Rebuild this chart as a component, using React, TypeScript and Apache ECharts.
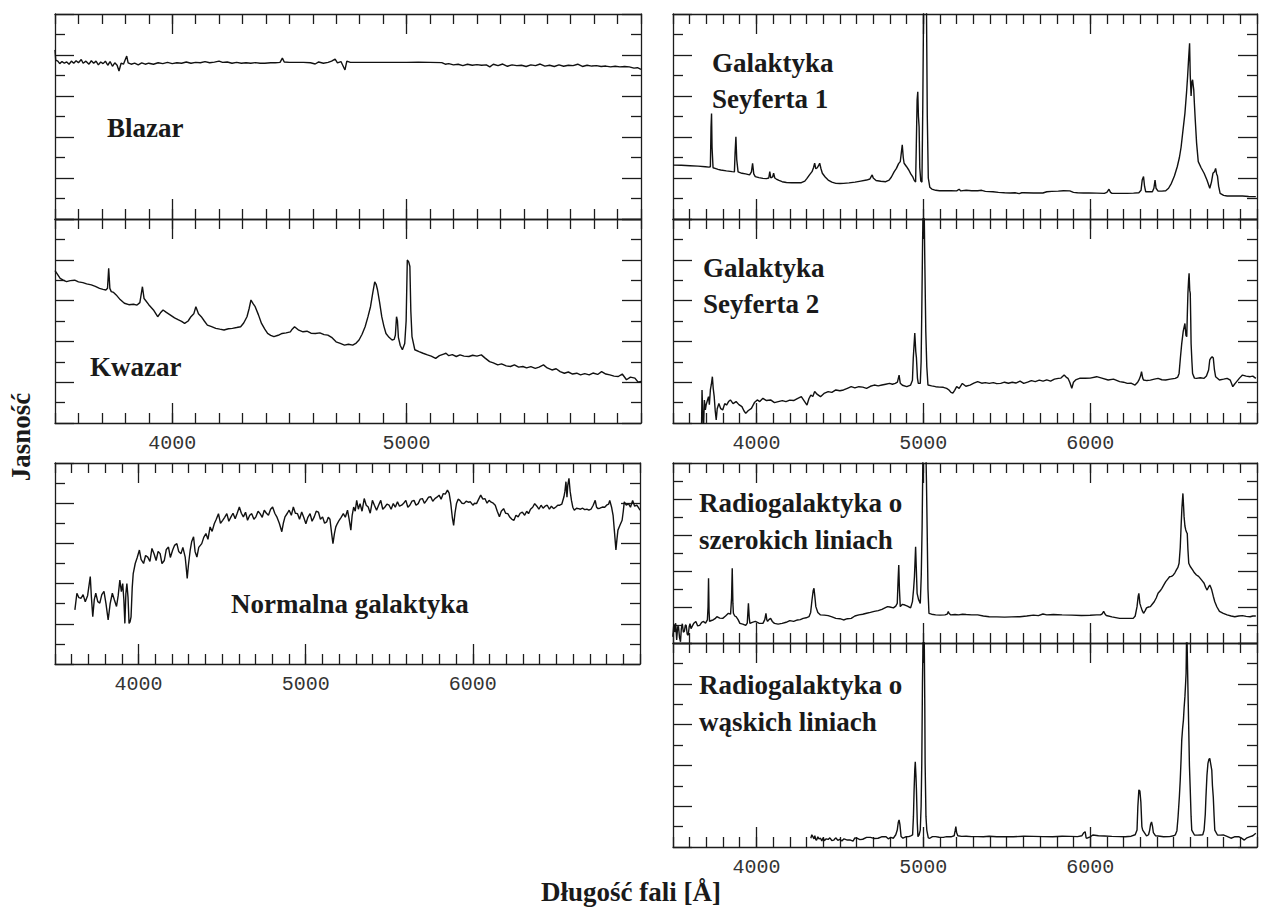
import { useEffect, useRef } from 'react';
import * as echarts from 'echarts';

// ---- Spectra: [wavelength (Å), relative brightness in tick units 0..10] ----
const blazar: [number, number][] = [
  [3500, 8.25], [3503, 7.75], [3512, 7.7], [3520, 7.58], [3530, 7.68], [3540, 7.6], [3550, 7.66], [3560, 7.55],
  [3570, 7.7], [3580, 7.6], [3590, 7.72], [3600, 7.62], [3612, 7.78], [3620, 7.6], [3632, 7.7], [3645, 7.55],
  [3655, 7.72], [3665, 7.6], [3675, 7.7], [3685, 7.52], [3695, 7.66], [3705, 7.58], [3715, 7.7], [3725, 7.5],
  [3735, 7.68], [3745, 7.45], [3755, 7.62], [3765, 7.5], [3773, 7.22], [3782, 7.6], [3792, 7.55], [3800, 7.78],
  [3806, 7.95], [3812, 7.62], [3825, 7.55], [3840, 7.6], [3855, 7.52], [3870, 7.62], [3885, 7.55], [3900, 7.6],
  [3920, 7.55], [3940, 7.62], [3960, 7.58], [3980, 7.64], [4000, 7.58], [4020, 7.62], [4040, 7.6], [4060, 7.66],
  [4080, 7.6], [4100, 7.64], [4120, 7.62], [4140, 7.68], [4160, 7.62], [4180, 7.65], [4200, 7.7], [4215, 7.64],
  [4235, 7.66], [4255, 7.6], [4275, 7.64], [4295, 7.6], [4315, 7.62], [4335, 7.6], [4355, 7.63], [4375, 7.6],
  [4395, 7.6], [4420, 7.62], [4440, 7.62], [4460, 7.64], [4470, 7.85], [4478, 7.66], [4500, 7.64], [4530, 7.64],
  [4560, 7.64], [4590, 7.62], [4610, 7.56], [4625, 7.66], [4645, 7.6], [4665, 7.64], [4680, 7.7], [4695, 7.8],
  [4705, 7.62], [4720, 7.68], [4737, 7.27], [4745, 7.7], [4760, 7.64], [4800, 7.64], [4850, 7.64], [4900, 7.64],
  [4950, 7.64], [5000, 7.64], [5050, 7.65], [5100, 7.64], [5150, 7.63], [5165, 7.55], [5180, 7.58], [5200, 7.52],
  [5220, 7.55], [5240, 7.48], [5260, 7.55], [5280, 7.5], [5300, 7.53], [5320, 7.5], [5340, 7.52], [5355, 7.42],
  [5370, 7.55], [5390, 7.48], [5410, 7.56], [5430, 7.45], [5450, 7.52], [5470, 7.48], [5490, 7.5], [5510, 7.44],
  [5530, 7.52], [5550, 7.48], [5570, 7.56], [5590, 7.46], [5610, 7.5], [5630, 7.44], [5650, 7.52], [5670, 7.45],
  [5690, 7.5], [5710, 7.48], [5730, 7.55], [5750, 7.44], [5770, 7.5], [5790, 7.46], [5810, 7.48], [5830, 7.44],
  [5850, 7.46], [5870, 7.42], [5890, 7.45], [5910, 7.42], [5930, 7.44], [5950, 7.42], [5970, 7.36], [5985, 7.38],
  [6000, 7.3],
];

const kwazar: [number, number][] = [
  [3500, 7.47], [3510, 7.3], [3522, 7.09], [3535, 7.0], [3549, 6.93], [3565, 6.98], [3584, 7.0], [3600, 6.92],
  [3619, 6.88], [3635, 6.82], [3655, 6.77], [3672, 6.7], [3690, 6.6], [3705, 6.55], [3717, 6.52], [3724, 6.6],
  [3729, 7.58], [3734, 6.6], [3740, 6.44], [3750, 6.4], [3761, 6.28], [3778, 6.05], [3796, 5.87], [3815, 5.8],
  [3835, 5.82], [3850, 5.78], [3862, 5.9], [3873, 6.68], [3880, 6.1], [3885, 6.03], [3900, 5.8], [3920, 5.54],
  [3938, 5.21], [3950, 5.4], [3961, 5.54], [3975, 5.42], [3991, 5.3], [4010, 5.15], [4027, 5.05], [4040, 4.98],
  [4053, 4.88], [4068, 5.0], [4080, 5.21], [4092, 5.35], [4101, 5.7], [4112, 5.35], [4124, 5.21], [4137, 5.0],
  [4150, 4.8], [4168, 4.72], [4186, 4.64], [4203, 4.6], [4221, 4.56], [4240, 4.62], [4257, 4.64], [4275, 4.68],
  [4292, 4.72], [4305, 4.9], [4319, 5.21], [4328, 5.6], [4336, 6.03], [4345, 5.85], [4354, 5.7], [4368, 5.3],
  [4381, 4.88], [4395, 4.6], [4407, 4.39], [4420, 4.3], [4434, 4.23], [4452, 4.3], [4469, 4.39], [4486, 4.42],
  [4504, 4.47], [4512, 4.6], [4522, 4.72], [4540, 4.55], [4558, 4.47], [4575, 4.5], [4592, 4.4], [4611, 4.39],
  [4630, 4.42], [4648, 4.33], [4664, 4.31], [4680, 4.2], [4699, 3.98], [4717, 3.9], [4735, 3.82], [4752, 3.86],
  [4770, 3.82], [4785, 3.92], [4797, 4.07], [4810, 4.35], [4823, 4.72], [4835, 5.2], [4846, 5.7], [4856, 6.4],
  [4864, 6.92], [4870, 6.8], [4876, 6.52], [4885, 5.9], [4894, 5.21], [4903, 4.75], [4912, 4.39], [4925, 4.2],
  [4938, 4.07], [4947, 4.1], [4952, 4.3], [4957, 5.21], [4961, 5.0], [4965, 4.2], [4973, 3.8], [4982, 3.59],
  [4992, 3.9], [4998, 5.0], [5003, 7.99], [5009, 7.9], [5014, 7.67], [5018, 5.5], [5023, 4.23], [5035, 3.59],
  [5053, 3.5], [5070, 3.42], [5089, 3.34], [5105, 3.28], [5124, 3.17], [5140, 3.3], [5158, 3.38], [5168, 3.42],
  [5180, 3.3], [5195, 3.35], [5212, 3.26], [5228, 3.34], [5245, 3.28], [5266, 3.26], [5282, 3.32], [5300, 3.28],
  [5319, 3.34], [5335, 3.18], [5354, 3.01], [5370, 2.95], [5389, 2.85], [5405, 2.9], [5425, 2.8], [5443, 2.77],
  [5460, 2.85], [5478, 2.74], [5496, 2.77], [5512, 2.7], [5530, 2.76], [5549, 2.68], [5565, 2.74], [5584, 2.85],
  [5600, 2.7], [5620, 2.6], [5638, 2.66], [5655, 2.52], [5673, 2.44], [5690, 2.5], [5708, 2.4], [5726, 2.44],
  [5742, 2.36], [5760, 2.42], [5779, 2.36], [5795, 2.45], [5815, 2.38], [5832, 2.52], [5850, 2.4], [5867, 2.36],
  [5885, 2.3], [5903, 2.28], [5920, 2.4], [5938, 2.12], [5955, 2.25], [5974, 2.2], [5988, 2.0], [6000, 2.04],
];

const normalGalaxy: [number, number][] = [
  [3619, 2.69], [3631, 3.52], [3643, 3.3], [3656, 3.27], [3668, 3.45], [3681, 3.1], [3695, 3.4], [3711, 4.35],
  [3718, 3.3], [3726, 2.35], [3735, 3.2], [3744, 3.52], [3756, 3.1], [3768, 3.03], [3780, 3.45], [3793, 3.61],
  [3805, 3.0], [3818, 2.19], [3830, 3.0], [3843, 3.52], [3855, 3.2], [3868, 2.86], [3878, 3.4], [3888, 4.18],
  [3897, 3.6], [3905, 4.0], [3912, 3.2], [3918, 2.02], [3924, 3.5], [3930, 4.0], [3937, 3.3], [3943, 2.02],
  [3949, 2.1], [3955, 2.35], [3962, 3.8], [3968, 4.5], [3980, 5.0], [3992, 5.3], [4005, 5.67], [4015, 5.2],
  [4030, 5.0], [4042, 5.4], [4055, 5.32], [4068, 5.1], [4080, 5.75], [4092, 5.5], [4105, 5.15], [4117, 5.6],
  [4129, 5.49], [4140, 5.0], [4154, 5.15], [4166, 5.7], [4179, 5.82], [4190, 5.3], [4204, 5.67], [4215, 5.9],
  [4229, 5.99], [4240, 5.6], [4254, 5.49], [4265, 5.8], [4279, 5.32], [4285, 4.8], [4291, 4.26], [4298, 4.9],
  [4309, 5.67], [4318, 6.1], [4329, 6.33], [4338, 5.6], [4349, 5.32], [4360, 5.8], [4378, 5.99], [4390, 6.3],
  [4403, 6.49], [4415, 6.2], [4428, 6.82], [4440, 6.6], [4453, 6.98], [4465, 7.2], [4478, 7.48], [4490, 7.0],
  [4503, 7.15], [4515, 7.3], [4528, 7.48], [4540, 7.1], [4553, 7.32], [4565, 7.5], [4578, 7.23], [4590, 7.5],
  [4603, 7.81], [4615, 7.5], [4627, 7.32], [4640, 7.55], [4652, 7.15], [4665, 7.4], [4677, 7.48], [4690, 7.2],
  [4702, 7.32], [4715, 7.6], [4727, 7.48], [4740, 7.3], [4752, 7.65], [4765, 7.5], [4777, 7.4], [4790, 7.7],
  [4802, 7.81], [4815, 7.5], [4827, 7.32], [4842, 7.0], [4857, 6.58], [4866, 7.0], [4876, 7.32], [4890, 7.5],
  [4901, 7.65], [4914, 7.4], [4926, 7.81], [4938, 7.5], [4951, 7.48], [4963, 7.2], [4976, 7.56], [4988, 7.3],
  [5001, 6.98], [5013, 7.3], [5026, 7.48], [5038, 7.1], [5051, 7.32], [5063, 7.6], [5076, 7.56], [5088, 7.2],
  [5101, 7.32], [5113, 7.0], [5125, 7.07], [5135, 7.3], [5145, 7.2], [5155, 6.5], [5163, 5.99], [5172, 6.5],
  [5180, 6.82], [5190, 7.0], [5200, 7.15], [5212, 7.3], [5225, 7.48], [5237, 7.3], [5250, 7.65], [5260, 7.2],
  [5270, 6.66], [5278, 7.4], [5287, 7.81], [5296, 7.6], [5305, 8.14], [5315, 7.7], [5325, 7.98], [5337, 7.6],
  [5350, 8.23], [5362, 7.9], [5374, 7.81], [5386, 7.5], [5399, 8.14], [5411, 7.9], [5424, 7.65], [5436, 7.9],
  [5449, 8.14], [5461, 7.7], [5474, 7.81], [5486, 7.95], [5499, 7.9], [5511, 7.7], [5524, 7.98], [5536, 7.8],
  [5549, 8.07], [5561, 7.85], [5574, 7.9], [5586, 8.0], [5599, 8.14], [5611, 7.8], [5623, 7.9], [5636, 8.1],
  [5648, 8.14], [5660, 7.9], [5673, 7.98], [5685, 8.2], [5698, 8.23], [5710, 8.0], [5723, 8.14], [5735, 8.3],
  [5748, 8.32], [5760, 8.1], [5773, 8.23], [5785, 8.3], [5798, 8.4], [5810, 8.2], [5823, 8.48], [5835, 8.45],
  [5848, 8.65], [5858, 8.5], [5868, 7.98], [5877, 7.3], [5885, 6.9], [5893, 7.5], [5902, 7.98], [5912, 8.2],
  [5922, 8.14], [5935, 8.0], [5947, 7.98], [5960, 8.1], [5972, 8.05], [5985, 8.07], [6000, 7.9], [6010, 8.0],
  [6022, 7.98], [6035, 8.2], [6047, 8.4], [6060, 8.2], [6072, 8.23], [6085, 8.0], [6097, 8.14], [6110, 8.05],
  [6122, 8.0], [6134, 7.9], [6146, 7.6], [6159, 7.32], [6170, 7.6], [6184, 7.73], [6196, 7.5], [6209, 7.48],
  [6222, 7.3], [6234, 7.2], [6246, 7.15], [6258, 7.4], [6271, 7.32], [6283, 7.5], [6296, 7.56], [6310, 7.4],
  [6322, 7.6], [6333, 7.48], [6345, 7.7], [6358, 7.8], [6370, 7.98], [6383, 7.85], [6395, 7.7], [6408, 7.9],
  [6420, 7.75], [6432, 7.85], [6445, 7.9], [6458, 7.7], [6470, 7.85], [6483, 7.73], [6495, 7.8], [6508, 7.9],
  [6520, 7.9], [6532, 7.95], [6545, 8.32], [6551, 8.6], [6557, 9.07], [6563, 8.3], [6568, 8.9], [6575, 9.24],
  [6582, 8.6], [6590, 8.14], [6598, 7.8], [6607, 7.65], [6620, 7.75], [6632, 7.73], [6644, 7.7], [6657, 7.75],
  [6669, 7.68], [6682, 7.7], [6694, 7.65], [6707, 7.7], [6720, 7.9], [6732, 8.14], [6740, 7.8], [6749, 7.73],
  [6760, 7.75], [6775, 7.81], [6789, 7.8], [6800, 7.9], [6812, 7.95], [6819, 8.14], [6830, 7.8], [6839, 7.4],
  [6848, 6.5], [6856, 5.67], [6862, 6.2], [6868, 6.66], [6880, 6.9], [6893, 7.15], [6900, 7.6], [6906, 8.07],
  [6918, 7.9], [6931, 7.98], [6943, 7.8], [6956, 8.14], [6968, 7.85], [6981, 7.9], [6993, 7.75], [7000, 7.65],
];

const seyfert1: [number, number][] = [
  [3500, 2.63], [3550, 2.62], [3602, 2.6], [3650, 2.58], [3694, 2.55], [3715, 2.53], [3724, 2.55], [3728, 4.5],
  [3731, 5.15], [3734, 3.5], [3740, 2.5], [3752, 2.47], [3770, 2.42], [3786, 2.39], [3820, 2.35], [3855, 2.31],
  [3868, 2.3], [3872, 3.2], [3877, 4.01], [3882, 2.9], [3890, 2.3], [3913, 2.23], [3935, 2.2], [3959, 2.15],
  [3970, 2.3], [3977, 2.72], [3984, 2.2], [3993, 2.07], [4015, 2.02], [4039, 1.98], [4060, 1.97], [4074, 2.0],
  [4080, 2.31], [4086, 2.0], [4097, 2.05], [4103, 2.23], [4110, 2.0], [4119, 1.95], [4135, 1.88], [4154, 1.82],
  [4180, 1.78], [4211, 1.77], [4240, 1.77], [4269, 1.77], [4290, 1.85], [4303, 1.98], [4318, 2.15], [4333, 2.31],
  [4342, 2.5], [4349, 2.72], [4356, 2.45], [4365, 2.5], [4372, 2.6], [4379, 2.72], [4387, 2.45], [4395, 2.23],
  [4412, 2.05], [4430, 1.9], [4452, 1.8], [4476, 1.74], [4500, 1.73], [4522, 1.74], [4555, 1.76], [4591, 1.8],
  [4625, 1.85], [4660, 1.9], [4680, 1.95], [4690, 2.1], [4694, 2.15], [4700, 2.0], [4717, 1.88], [4745, 1.84],
  [4775, 1.82], [4795, 1.9], [4809, 2.05], [4825, 2.3], [4839, 2.47], [4852, 2.7], [4862, 2.8], [4868, 3.2],
  [4874, 3.62], [4880, 3.0], [4885, 2.72], [4900, 2.55], [4913, 2.39], [4925, 2.2], [4936, 2.07], [4945, 1.9],
  [4954, 1.8], [4958, 3.5], [4963, 5.8], [4967, 6.21], [4971, 5.0], [4975, 4.5], [4979, 2.5], [4985, 1.85],
  [4992, 1.8], [4997, 5.5], [5003, 11.5], [5012, 11.5], [5018, 11.5], [5024, 5.0], [5030, 2.0], [5039, 1.55],
  [5051, 1.46], [5075, 1.4], [5097, 1.38], [5130, 1.38], [5166, 1.38], [5200, 1.37], [5215, 1.45], [5225, 1.37],
  [5257, 1.4], [5290, 1.38], [5326, 1.38], [5350, 1.4], [5372, 1.35], [5418, 1.33], [5450, 1.3], [5487, 1.28],
  [5520, 1.27], [5550, 1.28], [5575, 1.24], [5590, 1.28], [5602, 1.28], [5660, 1.27], [5717, 1.27], [5740, 1.33],
  [5770, 1.35], [5809, 1.36], [5840, 1.38], [5878, 1.37], [5900, 1.3], [5924, 1.28], [5960, 1.27], [5993, 1.27],
  [6040, 1.26], [6085, 1.25], [6100, 1.3], [6113, 1.45], [6122, 1.3], [6131, 1.25], [6180, 1.25], [6223, 1.25],
  [6260, 1.26], [6292, 1.28], [6305, 1.4], [6312, 1.9], [6320, 2.07], [6326, 1.6], [6333, 1.33], [6350, 1.33],
  [6373, 1.33], [6382, 1.5], [6389, 1.9], [6395, 1.5], [6407, 1.36], [6430, 1.36], [6453, 1.38], [6470, 1.5],
  [6487, 1.74], [6505, 2.1], [6522, 2.55], [6535, 3.0], [6545, 3.5], [6556, 4.3], [6568, 5.15], [6578, 6.2],
  [6584, 6.94], [6590, 7.8], [6596, 8.57], [6600, 7.0], [6605, 6.0], [6610, 6.7], [6614, 6.79], [6618, 6.5],
  [6621, 6.3], [6625, 5.6], [6630, 4.83], [6638, 3.7], [6648, 2.8], [6665, 2.5], [6683, 2.23], [6700, 1.9],
  [6717, 1.5], [6727, 1.8], [6736, 2.23], [6745, 2.3], [6752, 2.47], [6758, 2.2], [6763, 2.1], [6770, 1.6],
  [6779, 1.25], [6800, 1.15], [6821, 1.12], [6860, 1.12], [6913, 1.12], [6950, 1.1], [6993, 1.09],
];

const seyfert2: [number, number][] = [
  [3671, -0.2], [3674, 1.62], [3678, 0.5], [3683, -0.3], [3688, 1.13], [3694, 0.64], [3699, 0.9], [3706, 1.1],
  [3713, 1.29], [3718, 0.9], [3724, 1.62], [3730, 1.9], [3736, 2.27], [3741, 1.7], [3747, 1.29], [3753, 0.6],
  [3759, 0.15], [3765, 0.7], [3775, 0.96], [3786, 0.7], [3798, 0.64], [3810, 0.95], [3821, 0.88], [3833, 1.05],
  [3844, 1.13], [3860, 0.95], [3878, 1.05], [3895, 0.9], [3913, 0.8], [3925, 0.6], [3936, 0.47], [3950, 0.6],
  [3970, 0.72], [3988, 1.0], [4005, 1.13], [4020, 1.05], [4039, 1.21], [4060, 1.1], [4085, 1.13], [4108, 1.0],
  [4131, 1.05], [4155, 1.1], [4177, 1.05], [4200, 1.12], [4223, 1.1], [4245, 1.2], [4269, 1.29], [4285, 1.1],
  [4303, 0.88], [4315, 1.2], [4326, 1.37], [4338, 1.3], [4349, 1.54], [4365, 1.4], [4384, 1.29], [4405, 1.45],
  [4430, 1.54], [4452, 1.5], [4476, 1.62], [4500, 1.58], [4522, 1.62], [4545, 1.7], [4568, 1.78], [4590, 1.72],
  [4614, 1.78], [4637, 1.76], [4660, 1.7], [4683, 1.8], [4706, 1.86], [4730, 1.82], [4752, 1.86], [4775, 1.9],
  [4798, 1.94], [4815, 1.9], [4832, 1.94], [4845, 2.0], [4855, 2.35], [4862, 1.95], [4875, 1.85], [4901, 1.78],
  [4924, 1.86], [4935, 2.1], [4940, 3.19], [4949, 4.41], [4955, 3.5], [4959, 3.19], [4965, 2.2], [4970, 1.94],
  [4982, 1.94], [4987, 3.0], [4991, 5.47], [4996, 9.0], [5000, 11.0], [5005, 10.8], [5009, 8.0], [5015, 4.5],
  [5021, 2.77], [5028, 1.86], [5050, 1.82], [5074, 1.78], [5097, 1.76], [5120, 1.75], [5140, 1.7], [5154, 1.62],
  [5166, 1.5], [5177, 1.46], [5188, 1.6], [5200, 1.78], [5215, 1.7], [5234, 1.94], [5255, 1.8], [5280, 1.86],
  [5303, 1.95], [5326, 2.03], [5350, 1.95], [5372, 1.98], [5395, 1.94], [5420, 1.98], [5440, 1.93], [5464, 1.94],
  [5487, 2.0], [5510, 1.95], [5533, 2.0], [5555, 1.96], [5580, 2.05], [5602, 1.94], [5625, 2.0], [5648, 2.08],
  [5671, 2.03], [5695, 2.1], [5718, 2.05], [5740, 2.11], [5763, 2.05], [5786, 2.15], [5809, 2.19], [5825, 2.2],
  [5844, 2.35], [5856, 2.25], [5867, 2.19], [5878, 2.0], [5890, 1.7], [5900, 2.0], [5913, 2.11], [5940, 2.2],
  [5970, 2.19], [6000, 2.2], [6039, 2.27], [6070, 2.2], [6108, 2.11], [6140, 2.15], [6177, 2.03], [6200, 2.0],
  [6223, 1.94], [6245, 1.95], [6269, 1.86], [6285, 2.0], [6292, 2.1], [6302, 2.3], [6308, 2.52], [6315, 2.2],
  [6320, 2.11], [6340, 2.08], [6361, 2.1], [6385, 2.15], [6407, 2.19], [6430, 2.12], [6453, 2.11], [6480, 2.15],
  [6510, 2.19], [6525, 2.25], [6533, 2.43], [6541, 3.2], [6549, 3.9], [6558, 4.5], [6568, 4.88], [6574, 4.3],
  [6579, 4.23], [6583, 5.5], [6586, 6.36], [6590, 7.0], [6593, 7.34], [6597, 6.5], [6600, 6.36], [6603, 5.0],
  [6605, 3.9], [6610, 3.0], [6614, 2.43], [6625, 2.2], [6637, 2.19], [6660, 2.22], [6683, 2.19], [6697, 2.3],
  [6710, 2.6], [6717, 3.1], [6724, 3.19], [6731, 3.25], [6738, 3.19], [6745, 2.6], [6752, 2.27], [6775, 2.11],
  [6800, 2.15], [6821, 2.19], [6840, 2.1], [6855, 1.78], [6865, 1.9], [6878, 2.03], [6895, 2.2], [6913, 2.35],
  [6935, 2.3], [6959, 2.27], [6975, 2.3], [6993, 2.19],
];

const broadLineRadio: [number, number][] = [
  [3499, 0.35], [3505, 1.07], [3510, 0.6], [3516, 1.1], [3522, 0.17], [3528, 0.9], [3533, 0.91], [3539, 0.3],
  [3545, 0.07], [3550, 0.8], [3556, 1.07], [3562, 0.6], [3568, 0.65], [3574, 1.0], [3579, 0.98], [3585, 0.5],
  [3591, 0.43], [3597, 0.9], [3602, 1.07], [3608, 0.8], [3614, 0.91], [3625, 1.1], [3637, 1.2], [3648, 0.95],
  [3660, 0.98], [3672, 1.15], [3683, 1.2], [3695, 1.1], [3706, 1.28], [3710, 2.0], [3713, 3.59], [3716, 1.8],
  [3719, 1.2], [3730, 1.25], [3740, 1.28], [3752, 1.35], [3763, 1.46], [3780, 1.38], [3798, 1.37], [3815, 1.5],
  [3832, 1.65], [3845, 1.6], [3851, 2.5], [3855, 4.15], [3859, 2.2], [3862, 1.65], [3870, 1.5], [3878, 1.46],
  [3890, 1.3], [3901, 1.09], [3918, 1.05], [3936, 0.98], [3945, 1.1], [3952, 2.2], [3957, 1.4], [3961, 1.09],
  [3975, 1.15], [3993, 1.2], [4015, 1.1], [4039, 1.09], [4050, 1.3], [4057, 1.65], [4062, 1.3], [4067, 1.2],
  [4075, 1.3], [4085, 1.37], [4095, 1.2], [4108, 1.09], [4130, 1.05], [4154, 1.09], [4178, 1.15], [4200, 1.24],
  [4223, 1.2], [4246, 1.28], [4263, 1.3], [4280, 1.37], [4298, 1.4], [4315, 1.46], [4325, 1.7], [4333, 2.39],
  [4340, 2.9], [4345, 3.04], [4350, 2.6], [4356, 2.02], [4368, 1.7], [4384, 1.56], [4407, 1.55], [4430, 1.52],
  [4453, 1.45], [4476, 1.37], [4500, 1.35], [4522, 1.28], [4545, 1.35], [4568, 1.37], [4590, 1.5], [4614, 1.56],
  [4637, 1.6], [4660, 1.65], [4683, 1.7], [4706, 1.76], [4730, 1.8], [4752, 1.87], [4770, 1.95], [4786, 2.02],
  [4800, 2.0], [4821, 1.95], [4835, 2.05], [4844, 2.2], [4849, 3.5], [4853, 4.33], [4857, 3.0], [4862, 2.02],
  [4875, 2.15], [4890, 2.11], [4905, 2.05], [4924, 1.95], [4935, 2.3], [4942, 3.0], [4947, 3.68], [4954, 5.35],
  [4958, 4.2], [4963, 2.76], [4972, 2.4], [4982, 2.2], [4988, 3.8], [4993, 6.46], [4998, 10.5], [5005, 11.5],
  [5014, 11.5], [5019, 9.0], [5023, 6.46], [5028, 3.0], [5034, 1.65], [5050, 1.6], [5074, 1.56], [5100, 1.55],
  [5130, 1.56], [5143, 1.6], [5150, 1.75], [5154, 1.65], [5165, 1.56], [5190, 1.58], [5212, 1.56], [5235, 1.6],
  [5257, 1.58], [5290, 1.56], [5326, 1.56], [5360, 1.5], [5395, 1.46], [5440, 1.45], [5487, 1.44], [5530, 1.45],
  [5579, 1.46], [5620, 1.5], [5660, 1.55], [5690, 1.52], [5717, 1.61], [5740, 1.56], [5780, 1.58], [5832, 1.56],
  [5890, 1.55], [5947, 1.53], [6000, 1.54], [6040, 1.56], [6062, 1.56], [6072, 1.62], [6081, 1.76], [6090, 1.6],
  [6097, 1.53], [6130, 1.45], [6177, 1.37], [6220, 1.37], [6258, 1.37], [6270, 1.5], [6281, 2.02], [6288, 2.6],
  [6292, 2.76], [6298, 2.2], [6304, 2.02], [6312, 1.8], [6320, 1.65], [6330, 1.8], [6338, 1.95], [6350, 2.0],
  [6361, 2.02], [6372, 2.15], [6384, 2.29], [6396, 2.5], [6407, 2.76], [6420, 2.9], [6430, 3.04], [6440, 3.2],
  [6453, 3.41], [6465, 3.55], [6476, 3.68], [6488, 3.7], [6499, 3.78], [6508, 3.9], [6517, 4.06], [6526, 4.2],
  [6533, 4.43], [6540, 5.3], [6545, 6.46], [6550, 7.5], [6556, 8.31], [6560, 7.6], [6563, 7.02], [6568, 6.5],
  [6573, 6.28], [6578, 6.15], [6582, 6.09], [6586, 5.2], [6591, 4.43], [6600, 4.25], [6614, 4.06], [6625, 3.9],
  [6637, 3.78], [6650, 3.7], [6660, 3.59], [6672, 3.45], [6683, 3.32], [6692, 3.1], [6701, 2.94], [6709, 3.1],
  [6717, 3.22], [6723, 3.1], [6729, 2.94], [6738, 2.6], [6747, 2.29], [6760, 2.0], [6775, 1.76], [6798, 1.65],
  [6821, 1.56], [6845, 1.5], [6867, 1.46], [6890, 1.5], [6913, 1.52], [6935, 1.48], [6959, 1.46], [6975, 1.5],
  [6993, 1.5],
];

const narrowLineRadio: [number, number][] = [
  [4326, 0.43], [4332, 0.6], [4338, 0.51], [4345, 0.4], [4350, 0.55], [4356, 0.35], [4361, 0.34], [4368, 0.5],
  [4375, 0.4], [4384, 0.43], [4392, 0.3], [4400, 0.45], [4407, 0.31], [4418, 0.4], [4430, 0.37], [4440, 0.45],
  [4452, 0.32], [4464, 0.34], [4475, 0.45], [4488, 0.33], [4499, 0.37], [4512, 0.3], [4525, 0.4], [4545, 0.34],
  [4560, 0.35], [4579, 0.29], [4590, 0.45], [4602, 0.43], [4620, 0.36], [4637, 0.38], [4660, 0.47], [4683, 0.47],
  [4705, 0.42], [4729, 0.43], [4750, 0.5], [4775, 0.51], [4790, 0.4], [4805, 0.47], [4821, 0.43], [4835, 0.6],
  [4844, 0.83], [4850, 1.2], [4855, 1.33], [4860, 1.1], [4867, 0.51], [4878, 0.43], [4895, 0.5], [4913, 0.51],
  [4925, 0.55], [4936, 0.59], [4941, 1.5], [4945, 2.8], [4949, 3.8], [4952, 4.18], [4956, 3.5], [4959, 2.8],
  [4964, 1.2], [4968, 0.51], [4975, 0.6], [4982, 0.83], [4987, 2.0], [4991, 4.1], [4995, 8.0], [5000, 11.0],
  [5005, 11.0], [5009, 7.0], [5011, 4.1], [5016, 1.5], [5021, 0.83], [5030, 0.45], [5039, 0.43], [5055, 0.51],
  [5074, 0.51], [5095, 0.48], [5120, 0.47], [5140, 0.51], [5166, 0.5], [5185, 0.55], [5191, 0.8], [5195, 1.0],
  [5200, 0.7], [5207, 0.55], [5230, 0.52], [5257, 0.53], [5290, 0.51], [5326, 0.51], [5360, 0.5], [5395, 0.53],
  [5440, 0.5], [5487, 0.51], [5540, 0.5], [5602, 0.53], [5660, 0.52], [5717, 0.51], [5775, 0.5], [5832, 0.53],
  [5880, 0.52], [5924, 0.51], [5950, 0.55], [5962, 0.7], [5970, 0.75], [5976, 0.45], [5982, 0.43], [6000, 0.5],
  [6016, 0.59], [6050, 0.55], [6085, 0.54], [6130, 0.52], [6177, 0.51], [6210, 0.5], [6246, 0.53], [6270, 0.6],
  [6281, 0.83], [6286, 2.0], [6292, 2.8], [6298, 2.75], [6304, 2.2], [6310, 1.0], [6315, 0.83], [6338, 0.54],
  [6350, 0.6], [6357, 0.83], [6362, 1.1], [6368, 1.23], [6374, 1.0], [6379, 0.7], [6392, 0.55], [6407, 0.54],
  [6440, 0.5], [6476, 0.51], [6500, 0.55], [6510, 0.59], [6520, 0.8], [6527, 1.48], [6535, 2.5], [6540, 3.28],
  [6545, 4.3], [6549, 5.24], [6554, 5.8], [6559, 6.22], [6563, 6.8], [6568, 7.37], [6572, 8.0], [6575, 8.51],
  [6579, 11.0], [6582, 11.0], [6584, 8.68], [6588, 7.0], [6591, 5.74], [6595, 4.0], [6600, 2.8], [6605, 1.5],
  [6609, 0.83], [6625, 0.59], [6645, 0.58], [6660, 0.59], [6675, 0.6], [6683, 0.83], [6690, 1.6], [6694, 2.45],
  [6700, 3.5], [6706, 4.1], [6712, 4.3], [6717, 4.34], [6722, 4.1], [6729, 3.77], [6733, 3.0], [6738, 2.45],
  [6743, 1.5], [6747, 0.83], [6763, 0.59], [6780, 0.58], [6798, 0.59], [6820, 0.52], [6844, 0.43], [6865, 0.5],
  [6890, 0.51], [6905, 0.45], [6924, 0.34], [6940, 0.45], [6959, 0.51], [6975, 0.55], [6993, 0.67],
];

// Axis tick values and labels
const shortRangeMajors = [4000, 5000];
const longRangeMajors = [4000, 5000, 6000];
const xAxisTitle = 'Długość fali [Å]';
const yAxisTitle = 'Jasność';

// ---- Layout (pixels) ----
interface Panel {
  data: [number, number][];
  xMin: number;
  xMax: number;
  majors: number[];
  labels: number[];
  box: [number, number, number, number];
  title: string[];
  titleX: number;
  titleY: number[];
}

const panels: Panel[] = [
  { data: blazar, xMin: 3500, xMax: 6000, majors: shortRangeMajors, labels: [], box: [55, 14, 586, 205], title: ['Blazar'], titleX: 107, titleY: [128] },
  { data: kwazar, xMin: 3500, xMax: 6000, majors: shortRangeMajors, labels: shortRangeMajors, box: [55, 219, 586, 204], title: ['Kwazar'], titleX: 90, titleY: [367] },
  { data: normalGalaxy, xMin: 3500, xMax: 7000, majors: longRangeMajors, labels: longRangeMajors, box: [55, 463, 585, 201], title: ['Normalna galaktyka'], titleX: 231, titleY: [604] },
  { data: seyfert1, xMin: 3500, xMax: 7000, majors: longRangeMajors, labels: [], box: [673, 14, 584, 205], title: ['Galaktyka', 'Seyferta 1'], titleX: 712, titleY: [63, 99] },
  { data: seyfert2, xMin: 3500, xMax: 7000, majors: longRangeMajors, labels: longRangeMajors, box: [673, 219, 584, 204], title: ['Galaktyka', 'Seyferta 2'], titleX: 703, titleY: [268, 304] },
  { data: broadLineRadio, xMin: 3500, xMax: 7000, majors: longRangeMajors, labels: [], box: [673, 463, 584, 180], title: ['Radiogalaktyka o', 'szerokich liniach'], titleX: 699, titleY: [503, 540] },
  { data: narrowLineRadio, xMin: 3500, xMax: 7000, majors: longRangeMajors, labels: longRangeMajors, box: [673, 643, 584, 204], title: ['Radiogalaktyka o', 'wąskich liniach'], titleX: 699, titleY: [685, 722] },
];

const INK = '#1c1c1c';
const SERIF = '"Liberation Serif", "Times New Roman", serif';

function buildOption() {
  const grid: any[] = [];
  const xAxis: any[] = [];
  const yAxis: any[] = [];
  const series: any[] = [];
  const graphic: any[] = [];
  const lineStyle = { color: INK, width: 1.3 };

  panels.forEach((p, i) => {
    const [left, top, width, height] = p.box;
    grid.push({ left, top, width, height, containLabel: false });
    const base = {
      type: 'value', gridIndex: i, min: p.xMin, max: p.xMax, interval: 100,
      splitLine: { show: false }, axisLabel: { show: false },
    };
    const minorTicks = { show: true, inside: true, length: 10, lineStyle };
    const majorTicks = { show: true, inside: true, length: 20, customValues: p.majors, lineStyle };
    xAxis.push({
      ...base, position: 'bottom',
      axisLine: { show: true, onZero: false, lineStyle },
      axisTick: minorTicks,
      axisLabel: p.labels.length
        ? {
            show: true, customValues: p.labels, formatter: (v: number) => String(v),
            fontFamily: '"Liberation Mono", "DejaVu Sans Mono", monospace', fontSize: 20, color: '#333', margin: 10,
          }
        : { show: false },
    });
    xAxis.push({ ...base, position: 'top', axisLine: { show: true, onZero: false, lineStyle }, axisTick: minorTicks });
    xAxis.push({ ...base, position: 'bottom', axisLine: { show: false, onZero: false }, axisTick: majorTicks });
    xAxis.push({ ...base, position: 'top', axisLine: { show: false, onZero: false }, axisTick: majorTicks });

    const yBase = {
      type: 'value', gridIndex: i, min: 0, max: 10, interval: 2,
      axisLine: { show: true, onZero: false, lineStyle },
      axisTick: { show: true, inside: true, length: 19, lineStyle },
      minorTick: { show: true, splitNumber: 2, length: 10, lineStyle },
      axisLabel: { show: false }, splitLine: { show: false }, minorSplitLine: { show: false },
    };
    yAxis.push({ ...yBase, position: 'left' });
    yAxis.push({ ...yBase, position: 'right' });

    series.push({
      type: 'line', xAxisIndex: i * 4, yAxisIndex: i * 2, data: p.data,
      showSymbol: false, symbol: 'none', clip: true, silent: true,
      lineStyle: { color: '#111', width: 1.4 },
    });

    p.title.forEach((t, k) => {
      graphic.push({
        type: 'text', x: p.titleX, y: p.titleY[k], silent: true,
        style: { text: t, fontFamily: SERIF, fontWeight: 'bold', fontSize: 27, fill: '#1a1a1a', align: 'left', verticalAlign: 'middle' },
      });
    });
  });

  graphic.push({
    type: 'text', x: 631, y: 892, silent: true,
    style: { text: xAxisTitle, fontFamily: SERIF, fontWeight: 'bold', fontSize: 27, fill: '#1a1a1a', align: 'center', verticalAlign: 'middle' },
  });
  graphic.push({
    type: 'text', x: 21, y: 437, rotation: Math.PI / 2, silent: true,
    style: { text: yAxisTitle, fontFamily: SERIF, fontWeight: 'bold', fontSize: 27, fill: '#1a1a1a', align: 'center', verticalAlign: 'middle' },
  });

  return { animation: false, backgroundColor: '#ffffff', grid, xAxis, yAxis, series, graphic };
}

export default function App() {
  const ref = useRef<HTMLDivElement>(null);
  useEffect(() => {
    if (!ref.current) return;
    const chart = echarts.init(ref.current, undefined, { renderer: 'svg' });
    chart.setOption(buildOption() as any);
    return () => chart.dispose();
  }, []);
  return <div ref={ref} style={{ position: 'absolute', left: 0, top: 0, width: 1262, height: 909, background: '#fff' }} />;
}
